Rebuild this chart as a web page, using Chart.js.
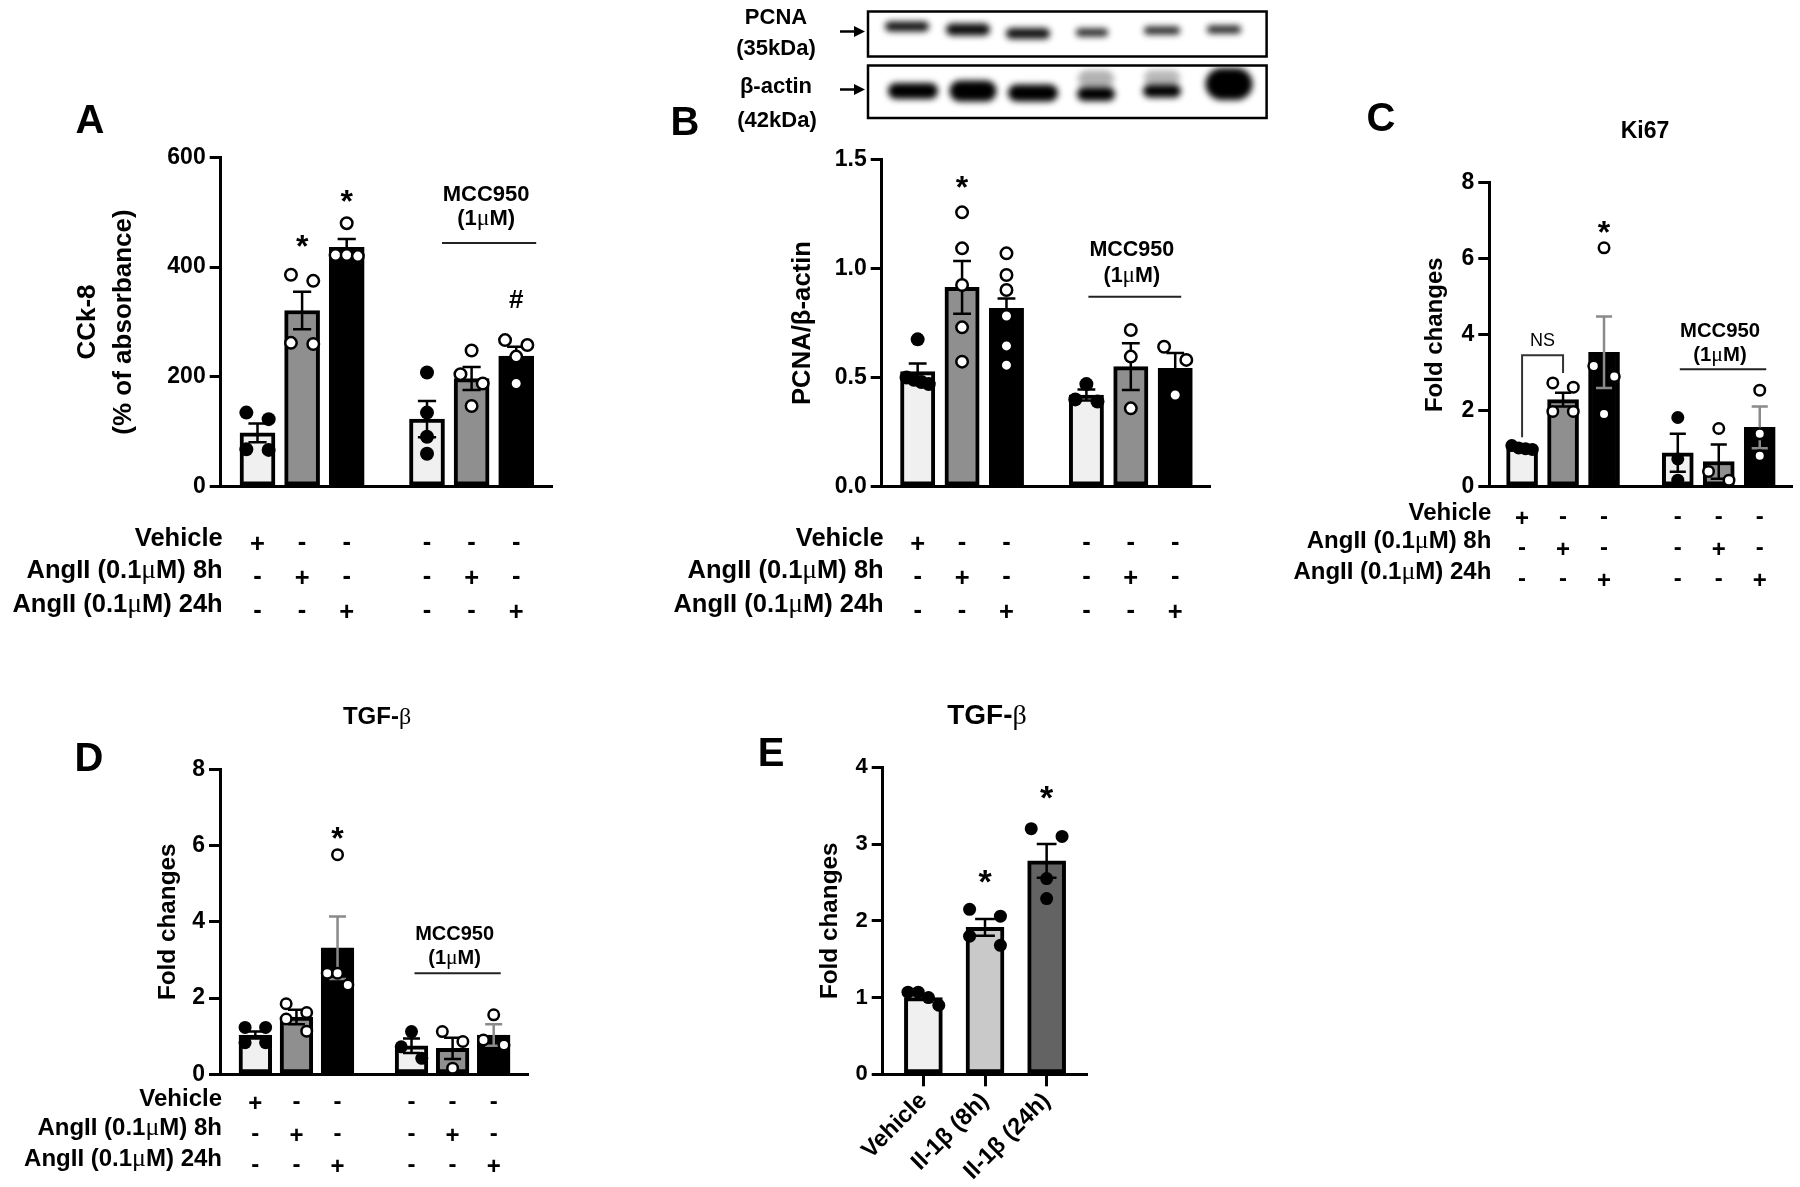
<!DOCTYPE html>
<html>
<head>
<meta charset="utf-8">
<title>CCK-8, PCNA, Ki67 and TGF-β</title>
<script src="https://cdn.jsdelivr.net/npm/chart.js@4.4.1/dist/chart.umd.min.js"></script>
<style>
  body { margin: 0; background: #fff; }
  #page { position: relative; width: 1800px; height: 1187px; overflow: hidden; background: #fff;
          font-family: "Liberation Sans", Arial, sans-serif; font-weight: bold; color: #000; }
  #page canvas { position: absolute; left: 0; top: 0; }
  .txt { position: absolute; transform: translate(-50%, -50%); line-height: 1; white-space: nowrap; }
  .greek { font-family: "Liberation Serif", serif; font-weight: normal; }
</style>
</head>
<body>
<div id="page">
  <canvas id="blot" width="1800" height="1187"></canvas>
  <canvas id="chartA" width="1800" height="1187"></canvas>
  <canvas id="chartB" width="1800" height="1187"></canvas>
  <canvas id="chartC" width="1800" height="1187"></canvas>
  <canvas id="chartD" width="1800" height="1187"></canvas>
  <canvas id="chartE" width="1800" height="1187"></canvas>

  <div class="txt" style="left:90px;top:119px;font-size:40px">A</div>
  <div class="txt" style="left:685px;top:121px;font-size:40px">B</div>
  <div class="txt" style="left:1381px;top:117px;font-size:40px">C</div>
  <div class="txt" style="left:89px;top:757px;font-size:40px">D</div>
  <div class="txt" style="left:771px;top:752px;font-size:40px">E</div>

  <div class="txt" style="left:1645px;top:130px;font-size:23px">Ki67</div>
  <div class="txt" style="left:377px;top:716px;font-size:24px">TGF-<span class="greek">β</span></div>
  <div class="txt" style="left:987px;top:715px;font-size:28px">TGF-<span class="greek">β</span></div>

  <div class="txt" style="left:776px;top:17px;font-size:22px">PCNA</div>
  <div class="txt" style="left:776px;top:48px;font-size:22px">(35kDa)</div>
  <div class="txt" style="left:776px;top:86px;font-size:22px">β-actin</div>
  <div class="txt" style="left:777px;top:120px;font-size:22px">(42kDa)</div>
</div>

<script>
const FONT = '"Liberation Sans", Arial, sans-serif';
const GREEK_FONT = '"Liberation Serif", serif';

// treatment table shared by A-D
const rowLabels = ["Vehicle", "AngII (0.1μM) 8h", "AngII (0.1μM) 24h"];
const vehicleRow = ["+", "-", "-", "-", "-", "-"];
const ang8Row = ["-", "+", "-", "-", "+", "-"];
const ang24Row = ["-", "-", "+", "-", "-", "+"];

// A: CCK-8
const cckTicks = [0, 200, 400, 600];
const cckTickLabels = ["0", "200", "400", "600"];
const cckMean = [98, 321, 436, 123, 197, 238];
const cckSem = [17, 34, 15, 33, 21, 17];
const cckPoints = [
  [123, 135, 67, 68],
  [375, 386, 260, 262],
  [480, 420, 422, 422],
  [208, 135, 91, 60],
  [248, 205, 188, 147],
  [267, 258, 237, 188]
];

// B: PCNA / beta-actin
const pcnaTicks = [0, 0.5, 1.0, 1.5];
const pcnaTickLabels = ["0.0", "0.5", "1.0", "1.5"];
const pcnaMean = [0.527, 0.913, 0.817, 0.42, 0.55, 0.542];
const pcnaSem = [0.038, 0.121, 0.045, 0.025, 0.107, 0.07];
const pcnaPoints = [
  [0.675, 0.50, 0.49, 0.48, 0.47],
  [1.257, 1.092, 0.924, 0.73, 0.573],
  [1.069, 0.97, 0.901, 0.782, 0.645, 0.557],
  [0.47, 0.40, 0.39],
  [0.718, 0.596, 0.359],
  [0.641, 0.581, 0.42]
];

// C: Ki67
const foldTicks = [0, 2, 4, 6, 8];
const foldTickLabels = ["0", "2", "4", "6", "8"];
const ki67Mean = [1.03, 2.29, 3.54, 0.89, 0.66, 1.56];
const ki67Sem = [0.05, 0.18, 0.94, 0.5, 0.45, 0.55];
const ki67Points = [
  [1.08, 1.02, 1.0, 0.98],
  [2.62, 2.73, 1.98, 1.98],
  [6.29, 3.18, 2.9, 1.91],
  [1.82, 0.73, 0.17],
  [1.53, 0.40, 0.17],
  [2.54, 1.39, 0.81]
];

// D: TGF-beta after AngII
const tgfMean = [1.03, 1.50, 3.32, 0.75, 0.68, 1.03];
const tgfSem = [0.09, 0.19, 0.82, 0.19, 0.28, 0.28];
const tgfPoints = [
  [1.23, 1.23, 0.83, 0.83],
  [1.85, 1.62, 1.45, 1.13],
  [5.76, 2.65, 2.65, 2.34],
  [1.12, 0.72, 0.42],
  [1.12, 0.86, 0.16],
  [1.56, 0.77, 0.90]
];

// E: TGF-beta after Il-1beta
const il1Labels = ["Vehicle", "Il-1β (8h)", "Il-1β (24h)"];
const il1Ticks = [0, 1, 2, 3, 4];
const il1TickLabels = ["0", "1", "2", "3", "4"];
const il1Mean = [1.0, 1.915, 2.78];
const il1Sem = [0.03, 0.11, 0.22];
const il1Points = [
  [1.07, 1.07, 1.0, 0.9],
  [2.06, 2.15, 1.68, 1.80],
  [3.1, 3.2, 2.55, 2.29]
];

const FILLS = ["#f0f0f0", "#8f8f8f", "#000000", "#f0f0f0", "#8f8f8f", "#000000"];
const FILLED = [true, false, false, true, false, false];
const GROUP_GAP = 0.8;   // extra space between the two groups of bars
const SPREAD = 0.5;      // horizontal spread of overlapping dots, in bar steps

function twoGroups(i) { return i < 3 ? i : i + GROUP_GAP; }
function oneGroup(i) { return i; }

// points that would overlap are spread side by side, like a GraphPad scatter
function swarm(values, center, thr) {
  const sorted = values.slice().sort((a, b) => b - a);
  const out = [];
  let cluster = [];
  const flush = () => {
    const n = cluster.length;
    cluster.forEach((v, k) => out.push({ x: center + (n > 1 ? (k - (n - 1) / 2) * SPREAD / (n - 1) : 0), y: v }));
    cluster = [];
  };
  sorted.forEach(v => {
    if (cluster.length && cluster[0] - v > thr) flush();
    cluster.push(v);
  });
  flush();
  return out;
}

function drawCentered(ctx, text, x, y, font, align) {
  ctx.font = font;
  ctx.textAlign = align || "center";
  ctx.textBaseline = "alphabetic";
  const m = ctx.measureText(text);
  ctx.fillText(text, x, y + (m.actualBoundingBoxAscent - m.actualBoundingBoxDescent) / 2);
}

// bold sans text with the greek letters set in a plain serif, as in the figure
function drawRich(ctx, text, x, y, size, align) {
  const parts = text.split(/([μβ])/).filter(s => s);
  const fontOf = s => (/[μβ]/.test(s) ? `${size * 1.08}px ${GREEK_FONT}` : `bold ${size}px ${FONT}`);
  let w = 0;
  parts.forEach(s => { ctx.font = fontOf(s); w += ctx.measureText(s).width; });
  ctx.font = `bold ${size}px ${FONT}`;
  const m = ctx.measureText(text.replace(/[μβ]/g, "u"));
  const base = y + (m.actualBoundingBoxAscent - m.actualBoundingBoxDescent) / 2;
  let cx = align === "right" ? x - w : x - w / 2;
  ctx.textAlign = "left";
  ctx.textBaseline = "alphabetic";
  parts.forEach(s => {
    ctx.font = fontOf(s);
    ctx.fillText(s, cx, base);
    cx += ctx.measureText(s).width;
  });
}

function notes(p, xs) {
  return {
    id: "notes" + p.name,
    // error bars go on top of the bars but under the dots
    afterDatasetDraw(chart, args) {
      if (args.meta.type !== "bar") return;
      const { ctx, scales: { x, y } } = chart;
      ctx.save();
      ctx.lineWidth = 2.5;
      p.mean.forEach((m, i) => {
        const cx = x.getPixelForValue(xs[i]);
        const hi = y.getPixelForValue(m + p.sem[i]);
        const lo = y.getPixelForValue(m - p.sem[i]);
        const h = p.barW * 0.26;
        ctx.strokeStyle = p.errColors[i];
        ctx.beginPath();
        ctx.moveTo(cx, hi); ctx.lineTo(cx, lo);
        ctx.moveTo(cx - h, hi); ctx.lineTo(cx + h, hi);
        ctx.moveTo(cx - h, lo); ctx.lineTo(cx + h, lo);
        ctx.stroke();
      });
      ctx.restore();
    },
    afterDraw(chart) {
      const { ctx, chartArea, scales: { x, y } } = chart;
      ctx.save();
      ctx.fillStyle = "#000";

      (p.marks || []).forEach(mk => {
        const i = mk.bar;
        const top = Math.min(y.getPixelForValue(Math.max(...p.points[i])) - p.dotR,
                             y.getPixelForValue(p.mean[i] + p.sem[i]));
        drawCentered(ctx, mk.text, x.getPixelForValue(xs[i]), top - mk.gap, `bold ${mk.size || 32}px ${FONT}`);
      });

      if (p.mcc) {
        const ly = y.getPixelForValue(p.mcc.level);
        const x0 = x.getPixelForValue(xs[3]) + p.mcc.x0;
        const x1 = x.getPixelForValue(xs[5]) + p.mcc.x1;
        ctx.strokeStyle = "#222";
        ctx.lineWidth = 2;
        ctx.beginPath(); ctx.moveTo(x0, ly); ctx.lineTo(x1, ly); ctx.stroke();
        drawCentered(ctx, "MCC950", (x0 + x1) / 2 - 3, ly + p.mcc.dy1, `bold ${p.mcc.fs}px ${FONT}`);
        drawRich(ctx, "(1μM)", (x0 + x1) / 2 - 3, ly + p.mcc.dy2, p.mcc.fs);
      }

      if (p.ns) {
        const n = p.ns;
        const xa = x.getPixelForValue(xs[n.from]), xb = x.getPixelForValue(xs[n.to]);
        const yt = y.getPixelForValue(n.top);
        ctx.strokeStyle = "#333";
        ctx.lineWidth = 2;
        ctx.beginPath();
        ctx.moveTo(xa, y.getPixelForValue(n.leftLow));
        ctx.lineTo(xa, yt); ctx.lineTo(xb, yt);
        ctx.lineTo(xb, y.getPixelForValue(n.rightLow));
        ctx.stroke();
        drawCentered(ctx, "NS", (xa + xb) / 2, yt - 16, `18px ${FONT}`);
      }

      if (p.table) {
        const t = p.table;
        const f = `bold ${t.fs}px ${FONT}`;
        const y0 = y.getPixelForValue(0);
        const rows = [vehicleRow, ang8Row, ang24Row];
        rowLabels.forEach((lab, r) => {
          const ry = y0 + t.top + r * t.gap;
          drawRich(ctx, lab, chartArea.left + 2, ry, t.fs, "right");
          rows[r].forEach((s, i) => drawCentered(ctx, s, x.getPixelForValue(xs[i]), ry + t.symDy, f));
        });
      }
      ctx.restore();
    }
  };
}

function makePanel(p) {
  const xs = p.mean.map((_, i) => p.xPos(i));
  const yMax = p.ticks[p.ticks.length - 1];
  const dots = [];
  p.points.forEach((vals, i) => {
    swarm(vals, xs[i], yMax * 0.045).forEach(d => dots.push({ x: d.x, y: d.y, filled: p.filled[i] }));
  });
  const lh = p.titleFs * p.titleLh;
  const yW = p.plot.left - p.titleX + lh / 2;
  const xH = p.xLabels ? 1187 - p.plot.bottom : 0;   // room for the rotated category labels
  const tickFont = { family: FONT, size: p.tickFs, weight: "bold" };

  new Chart(document.getElementById(p.canvas), {
    type: "bar",
    data: {
      datasets: [
        {
          type: "scatter",
          data: dots,
          order: 0,
          clip: false,
          pointRadius: dots.map(d => d.filled ? p.dotR : p.dotR - 1.25),
          pointBackgroundColor: dots.map(d => d.filled ? "#000" : "#fff"),
          pointBorderColor: "#000",
          pointBorderWidth: dots.map(d => d.filled ? 0 : 2.5)
        },
        {
          type: "bar",
          data: xs.map((x, i) => ({ x: x, y: p.mean[i] })),
          order: 1,
          backgroundColor: p.fills,
          borderColor: "#000",
          borderWidth: 4,
          borderSkipped: false,
          barThickness: p.barW
        }
      ]
    },
    options: {
      responsive: false,
      animation: false,
      devicePixelRatio: 1,
      events: [],
      layout: {
        padding: {
          left: p.plot.left - yW,
          top: p.plot.top,
          right: 1800 - p.plot.right,
          bottom: 1187 - p.plot.bottom - xH
        }
      },
      plugins: { legend: { display: false }, tooltip: { enabled: false } },
      scales: {
        x: {
          type: "linear",
          min: p.xMin,
          max: p.xMax,
          offset: false,
          afterFit: s => { s.height = xH; },
          afterBuildTicks: s => { s.ticks = xs.map(v => ({ value: v })); },
          ticks: {
            display: !!p.xLabels,
            autoSkip: false,
            minRotation: 45,
            maxRotation: 45,
            padding: 1,
            font: { family: FONT, size: p.xLabelFs || p.tickFs, weight: "bold" },
            color: "#000",
            callback: (v, i) => (p.xLabels ? p.xLabels[i] : "")
          },
          grid: { display: !!p.xLabels, offset: false, drawOnChartArea: false, drawTicks: true,
                  tickLength: 12, lineWidth: 3, color: "#000" },
          border: { display: true, width: 3, color: "#000" }
        },
        y: {
          type: "linear",
          min: 0,
          max: yMax,
          afterFit: s => { s.width = yW; },
          afterBuildTicks: s => { s.ticks = p.ticks.map(v => ({ value: v })); },
          ticks: {
            autoSkip: false,
            padding: 4,
            font: tickFont,
            color: "#000",
            callback: (v, i) => p.tickLabels[i]
          },
          grid: { display: true, drawOnChartArea: false, drawTicks: true, tickLength: 11, lineWidth: 3, color: "#000" },
          border: { display: true, width: 3, color: "#000" },
          title: {
            display: true,
            text: p.title,
            color: "#000",
            padding: 0,
            font: { family: FONT, size: p.titleFs, weight: "bold", lineHeight: p.titleLh }
          }
        }
      }
    },
    plugins: [notes(p, xs)]
  });
}

const BLACK6 = ["#000", "#000", "#000", "#000", "#000", "#000"];
const GREY_ON_BLACK = ["#000", "#000", "#8a8a8a", "#000", "#000", "#8a8a8a"];

makePanel({
  name: "A", canvas: "chartA", xPos: twoGroups,
  mean: cckMean, sem: cckSem, points: cckPoints, ticks: cckTicks, tickLabels: cckTickLabels,
  fills: FILLS, filled: FILLED, errColors: BLACK6,
  plot: { left: 220.7, top: 157.3, right: 551, bottom: 486.7 }, xMin: -0.825, xMax: 6.58,
  title: ["CCk-8", "(% of absorbance)"], titleX: 88.3, titleFs: 26, titleLh: 1.35, tickFs: 23,
  barW: 35, dotR: 7,
  marks: [{ bar: 1, text: "*", gap: 27 }, { bar: 2, text: "*", gap: 20 }, { bar: 5, text: "#", gap: 34, size: 26 }],
  mcc: { level: 444, x0: 15, x1: 20, dy1: -49, dy2: -23, fs: 22 },
  table: { top: 50, gap: 34.2, symDy: 6, fs: 25.5 }
});

makePanel({
  name: "B", canvas: "chartB", xPos: twoGroups,
  mean: pcnaMean, sem: pcnaSem, points: pcnaPoints, ticks: pcnaTicks, tickLabels: pcnaTickLabels,
  fills: FILLS, filled: FILLED, errColors: BLACK6,
  plot: { left: 881.7, top: 159.3, right: 1209.4, bottom: 486.7 }, xMin: -0.81, xMax: 6.57,
  title: "PCNA/β-actin", titleX: 803.3, titleFs: 25.7, titleLh: 1.2, tickFs: 23,
  barW: 34.3, dotR: 7,
  marks: [{ bar: 1, text: "*", gap: 23.6 }],
  mcc: { level: 0.87, x0: 2, x1: 6, dy1: -48, dy2: -20, fs: 21.5 },
  table: { top: 50, gap: 34.2, symDy: 6, fs: 25.5 }
});

makePanel({
  name: "C", canvas: "chartC", xPos: twoGroups,
  mean: ki67Mean, sem: ki67Sem, points: ki67Points, ticks: foldTicks, tickLabels: foldTickLabels,
  fills: FILLS, filled: FILLED, errColors: GREY_ON_BLACK,
  plot: { left: 1489.3, top: 182.9, right: 1791.7, bottom: 486.6 }, xMin: -0.8, xMax: 6.58,
  title: "Fold changes", titleX: 1435, titleFs: 24, titleLh: 1.2, tickFs: 23,
  barW: 31, dotR: 6.5,
  marks: [{ bar: 2, text: "*", gap: 14.5 }],
  mcc: { level: 3.09, x0: 2, x1: 6.5, dy1: -39, dy2: -14, fs: 20.3 },
  ns: { from: 0, to: 1, leftLow: 1.3, top: 3.46, rightLow: 2.99 },
  table: { top: 23.9, gap: 31, symDy: 7, fs: 24 }
});

makePanel({
  name: "D", canvas: "chartD", xPos: twoGroups,
  mean: tgfMean, sem: tgfSem, points: tgfPoints, ticks: foldTicks, tickLabels: foldTickLabels,
  fills: FILLS, filled: FILLED, errColors: GREY_ON_BLACK,
  plot: { left: 220, top: 769.3, right: 527.4, bottom: 1074.3 }, xMin: -0.86, xMax: 6.62,
  title: "Fold changes", titleX: 168.3, titleFs: 24.3, titleLh: 1.2, tickFs: 23,
  barW: 32.7, dotR: 6.5,
  marks: [{ bar: 2, text: "*", gap: 15 }],
  mcc: { level: 2.65, x0: 3, x1: 7, dy1: -40, dy2: -15, fs: 20 },
  table: { top: 22.4, gap: 31.6, symDy: 6, fs: 24 }
});

makePanel({
  name: "E", canvas: "chartE", xPos: oneGroup,
  mean: il1Mean, sem: il1Sem, points: il1Points, ticks: il1Ticks, tickLabels: il1TickLabels,
  fills: ["#f0f0f0", "#c9c9c9", "#636363"], filled: [true, true, true], errColors: ["#000", "#000", "#000"],
  plot: { left: 882.7, top: 767.3, right: 1086.7, bottom: 1074.3 }, xMin: -0.66, xMax: 2.65,
  title: "Fold changes", titleX: 830, titleFs: 24.3, titleLh: 1.2, tickFs: 22,
  barW: 38, dotR: 6.5, xLabels: il1Labels, xLabelFs: 23.5,
  marks: [{ bar: 1, text: "*", gap: 26, size: 34 }, { bar: 2, text: "*", gap: 30, size: 34 }]
});

// western blot strip above panel B
function drawBlot() {
  const ctx = document.getElementById("blot").getContext("2d");
  const boxes = [[868, 11.5, 398.6, 45], [868, 65.5, 398.6, 52.5]];
  const pcnaBands = [[907, 26.5, 44, 10, 0.92], [968, 29.5, 44, 12, 0.95], [1028, 33.5, 44, 11, 0.92],
                     [1092, 32.5, 32, 8, 0.85], [1162, 30.5, 36, 8, 0.85], [1224, 29.5, 34, 8, 0.85]];
  const actinBands = [[1096, 79, 36, 18, 0.3], [1162, 78, 36, 16, 0.28],
                      [913, 91, 50, 16, 1], [973, 91, 47, 21, 1], [1033, 93, 50, 17, 1],
                      [1096, 94, 38, 14, 1], [1162, 91, 38, 13, 1], [1229, 84, 47, 32, 1]];
  [[boxes[0], pcnaBands], [boxes[1], actinBands]].forEach(([b, bands]) => {
    ctx.save();
    ctx.beginPath();
    ctx.rect(b[0] + 1, b[1] + 1, b[2] - 2, b[3] - 2);
    ctx.clip();
    ctx.filter = "blur(3px)";
    bands.forEach(([cx, cy, w, h, a]) => {
      ctx.fillStyle = `rgba(0,0,0,${a})`;
      ctx.beginPath();
      ctx.roundRect(cx - w / 2, cy - h / 2, w, h, h / 2);
      ctx.fill();
    });
    ctx.restore();
    ctx.lineWidth = 2.5;
    ctx.strokeStyle = "#000";
    ctx.strokeRect(b[0], b[1], b[2], b[3]);
  });
  [31.5, 89.5].forEach(ay => {
    ctx.lineWidth = 2.5;
    ctx.beginPath(); ctx.moveTo(840, ay); ctx.lineTo(856, ay); ctx.stroke();
    ctx.beginPath(); ctx.moveTo(865, ay); ctx.lineTo(854, ay - 5.5); ctx.lineTo(854, ay + 5.5); ctx.closePath();
    ctx.fillStyle = "#000"; ctx.fill();
  });
}
drawBlot();
</script>
</body>
</html>
